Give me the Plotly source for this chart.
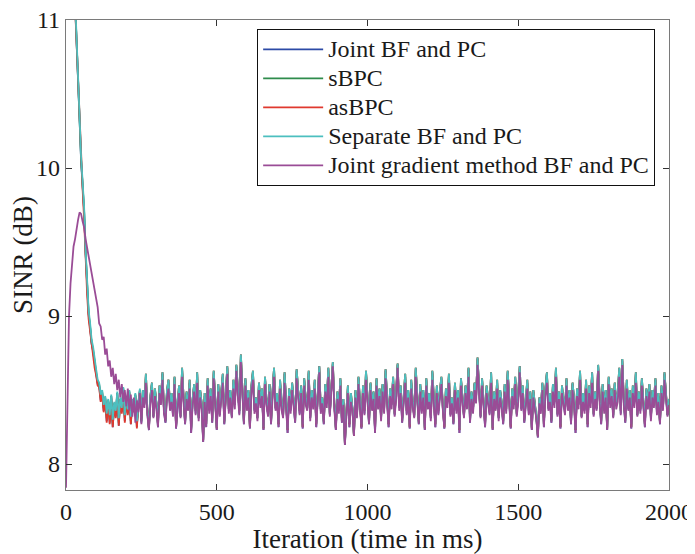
import plotly.graph_objects as go

# Iteration index (time in ms), sampled every 5 iterations
iterations = list(range(0, 2001, 5))

x_ticks = [0, 500, 1000, 1500, 2000]
y_ticks = [8, 9, 10, 11]

series_names = [
    "Joint BF and PC",
    "sBPC",
    "asBPC",
    "Separate BF and PC",
    "Joint gradient method BF and PC",
]
series_colors = ["#2c4aa6", "#2f8c4c", "#e0392e", "#4cbfbf", "#9a4c96"]

sinr_joint = [
    13.58, 13.08, 12.58, 12.12, 11.72, 11.42, 11.12, 10.89, 10.60, 10.33, 10.05, 9.90, 9.71, 9.42, 9.19, 9.01, 8.92, 8.81, 8.76, 8.67,
    8.61, 8.54, 8.53, 8.43, 8.48, 8.36, 8.45, 8.29, 8.43, 8.28, 8.46, 8.25, 8.41, 8.32, 8.48, 8.26, 8.44, 8.35, 8.51, 8.29,
    8.45, 8.34, 8.49, 8.27, 8.43, 8.36, 8.47, 8.25, 8.42, 8.50,
    8.28, 8.49, 8.40, 8.59, 8.34, 8.23, 8.45, 8.54, 8.32, 8.50, 8.40, 8.25, 8.51, 8.42, 8.61, 8.36, 8.28, 8.49, 8.55, 8.38,
    8.46, 8.33, 8.58, 8.24, 8.41, 8.51, 8.32, 8.64, 8.44, 8.27, 8.48, 8.37, 8.55, 8.21, 8.42, 8.53, 8.34, 8.61, 8.31, 8.49,
    8.40, 8.15, 8.46, 8.25, 8.57, 8.36, 8.50, 8.28, 8.62, 8.42, 8.23, 8.53, 8.33, 8.48, 8.59, 8.27, 8.44, 8.65, 8.36, 8.49,
    8.32, 8.55, 8.40, 8.66, 8.50, 8.34, 8.73, 8.46, 8.27, 8.57, 8.38, 8.49, 8.24, 8.51, 8.62, 8.36, 8.44, 8.31, 8.54, 8.41,
    8.50, 8.23, 8.58, 8.42, 8.33, 8.53, 8.27, 8.48, 8.64, 8.37, 8.46, 8.25, 8.55, 8.40, 8.32, 8.61, 8.44, 8.21, 8.50, 8.36,
    8.54, 8.41, 8.28, 8.63, 8.48, 8.34, 8.51, 8.24, 8.57, 8.42, 8.37, 8.62, 8.31, 8.49, 8.40, 8.55, 8.25, 8.46, 8.66, 8.36,
    8.44, 8.27, 8.53, 8.41, 8.64, 8.33, 8.50, 8.68, 8.40, 8.23, 8.48, 8.36, 8.57, 8.28, 8.42, 8.13, 8.34, 8.51, 8.25, 8.46,
    8.37, 8.19, 8.49, 8.32, 8.58, 8.41, 8.24, 8.51, 8.34, 8.62, 8.44, 8.27, 8.54, 8.38, 8.48, 8.21, 8.57, 8.40, 8.50, 8.31,
    8.53, 8.36, 8.63, 8.42, 8.25, 8.50, 8.40, 8.58, 8.33, 8.48, 8.67, 8.38, 8.51, 8.28, 8.45, 8.59, 8.34, 8.49, 8.24, 8.55,
    8.41, 8.32, 8.64, 8.44, 8.27, 8.53, 8.36, 8.49, 8.23, 8.57, 8.40, 8.46, 8.31, 8.62, 8.42, 8.25, 8.51, 8.34, 8.48, 8.58,
    8.37, 8.24, 8.50, 8.41, 8.59, 8.33, 8.44, 8.27, 8.54, 8.36, 8.49, 8.21, 8.57, 8.42, 8.32, 8.51, 8.40, 8.64, 8.28, 8.48,
    8.36, 8.54, 8.44, 8.71, 8.50, 8.32, 8.57, 8.40, 8.25, 8.51, 8.42, 8.34, 8.61, 8.23, 8.48, 8.37, 8.55, 8.31, 8.49, 8.41,
    8.27, 8.53, 8.36, 8.62, 8.44, 8.24, 8.50, 8.40, 8.58, 8.33, 8.46, 8.66, 8.37, 8.51, 8.28, 8.42, 8.55, 8.34, 8.48, 8.23,
    8.49, 8.40, 8.32, 8.18, 8.44, 8.36, 8.54, 8.25, 8.50, 8.61, 8.37, 8.46, 8.28, 8.53, 8.41, 8.64, 8.33, 8.48, 8.24, 8.51,
    8.42, 8.34, 8.57, 8.37, 8.49, 8.27, 8.54, 8.44, 8.21, 8.50, 8.40, 8.62, 8.32, 8.46, 8.36, 8.55, 8.25, 8.51, 8.41, 8.61,
    8.33, 8.48, 8.37, 8.66, 8.44, 8.27, 8.53, 8.36, 8.49, 8.23, 8.58, 8.41, 8.50, 8.32, 8.54, 8.40, 8.46, 8.64, 8.34, 8.70,
    8.42, 8.28, 8.55, 8.37, 8.49, 8.24, 8.51, 8.41, 8.61, 8.33, 8.48, 8.36, 8.57, 8.44, 8.25, 8.50, 8.40, 8.53, 8.31, 8.49,
    8.41, 8.57, 8.34, 8.46, 8.27, 8.51, 8.37, 8.61, 8.44, 8.33, 8.42,
]

sinr_sbpc = [
    13.59, 13.09, 12.59, 12.13, 11.73, 11.43, 11.13, 10.90, 10.60, 10.33, 10.06, 9.91, 9.72, 9.43, 9.20, 9.02, 8.93, 8.82, 8.77, 8.68,
    8.62, 8.55, 8.54, 8.45, 8.49, 8.38, 8.45, 8.31, 8.43, 8.30, 8.46, 8.27, 8.41, 8.34, 8.48, 8.28, 8.44, 8.36, 8.51, 8.31,
    8.45, 8.35, 8.49, 8.29, 8.43, 8.37, 8.47, 8.27, 8.42, 8.50,
    8.29, 8.50, 8.41, 8.61, 8.36, 8.24, 8.46, 8.55, 8.32, 8.51, 8.41, 8.27, 8.53, 8.44, 8.62, 8.37, 8.29, 8.50, 8.57, 8.40,
    8.48, 8.34, 8.59, 8.25, 8.42, 8.53, 8.32, 8.65, 8.45, 8.28, 8.49, 8.38, 8.57, 8.23, 8.44, 8.54, 8.36, 8.62, 8.31, 8.50,
    8.41, 8.16, 8.48, 8.27, 8.58, 8.37, 8.51, 8.29, 8.63, 8.44, 8.24, 8.54, 8.34, 8.49, 8.61, 8.28, 8.45, 8.66, 8.37, 8.50,
    8.32, 8.57, 8.41, 8.67, 8.51, 8.36, 8.74, 8.48, 8.28, 8.58, 8.40, 8.50, 8.25, 8.53, 8.63, 8.37, 8.45, 8.31, 8.55, 8.42,
    8.51, 8.24, 8.59, 8.44, 8.34, 8.54, 8.28, 8.49, 8.65, 8.38, 8.48, 8.27, 8.57, 8.41, 8.32, 8.62, 8.45, 8.23, 8.51, 8.37,
    8.55, 8.42, 8.29, 8.64, 8.49, 8.36, 8.53, 8.25, 8.58, 8.44, 8.38, 8.63, 8.31, 8.50, 8.41, 8.57, 8.27, 8.48, 8.66, 8.37,
    8.45, 8.28, 8.54, 8.42, 8.65, 8.34, 8.51, 8.69, 8.41, 8.24, 8.49, 8.37, 8.58, 8.29, 8.44, 8.14, 8.36, 8.53, 8.27, 8.48,
    8.38, 8.19, 8.50, 8.32, 8.59, 8.42, 8.25, 8.53, 8.36, 8.63, 8.45, 8.28, 8.55, 8.40, 8.49, 8.23, 8.58, 8.41, 8.51, 8.31,
    8.54, 8.37, 8.64, 8.44, 8.27, 8.51, 8.41, 8.59, 8.34, 8.49, 8.68, 8.40, 8.53, 8.29, 8.46, 8.61, 8.36, 8.50, 8.25, 8.57,
    8.42, 8.32, 8.65, 8.45, 8.28, 8.54, 8.37, 8.50, 8.24, 8.58, 8.41, 8.48, 8.31, 8.63, 8.44, 8.27, 8.53, 8.36, 8.49, 8.59,
    8.38, 8.25, 8.51, 8.42, 8.61, 8.34, 8.45, 8.28, 8.55, 8.37, 8.50, 8.23, 8.58, 8.44, 8.32, 8.53, 8.41, 8.65, 8.29, 8.49,
    8.37, 8.55, 8.45, 8.72, 8.51, 8.32, 8.58, 8.41, 8.27, 8.53, 8.44, 8.36, 8.62, 8.24, 8.49, 8.38, 8.57, 8.31, 8.50, 8.42,
    8.28, 8.54, 8.37, 8.63, 8.45, 8.25, 8.51, 8.41, 8.59, 8.34, 8.48, 8.66, 8.38, 8.53, 8.29, 8.44, 8.57, 8.36, 8.49, 8.24,
    8.50, 8.41, 8.32, 8.19, 8.45, 8.37, 8.55, 8.27, 8.51, 8.62, 8.38, 8.48, 8.29, 8.54, 8.42, 8.65, 8.34, 8.49, 8.25, 8.53,
    8.44, 8.36, 8.58, 8.38, 8.50, 8.28, 8.55, 8.45, 8.23, 8.51, 8.41, 8.63, 8.32, 8.48, 8.37, 8.57, 8.27, 8.53, 8.42, 8.62,
    8.34, 8.49, 8.38, 8.67, 8.45, 8.28, 8.54, 8.37, 8.50, 8.24, 8.59, 8.42, 8.51, 8.32, 8.55, 8.41, 8.48, 8.65, 8.36, 8.71,
    8.44, 8.29, 8.57, 8.38, 8.50, 8.25, 8.53, 8.42, 8.62, 8.33, 8.49, 8.37, 8.58, 8.45, 8.27, 8.51, 8.41, 8.54, 8.31, 8.50,
    8.42, 8.58, 8.36, 8.48, 8.28, 8.53, 8.38, 8.62, 8.45, 8.33, 8.44,
]

sinr_asbpc = [
    13.55, 13.02, 12.54, 12.08, 11.70, 11.38, 11.10, 10.85, 10.56, 10.28, 10.02, 9.86, 9.66, 9.37, 9.15, 8.98, 8.90, 8.78, 8.74, 8.65,
    8.60, 8.53, 8.52, 8.42, 8.47, 8.35, 8.44, 8.28, 8.42, 8.27, 8.45, 8.25, 8.40, 8.31, 8.47, 8.26, 8.43, 8.34, 8.50, 8.28,
    8.44, 8.33, 8.48, 8.27, 8.42, 8.35, 8.46, 8.24, 8.41, 8.49,
    8.31, 8.50, 8.41, 8.61, 8.36, 8.24, 8.46, 8.55, 8.33, 8.51, 8.41, 8.27, 8.53, 8.44, 8.62, 8.37, 8.31, 8.50, 8.57, 8.40,
    8.48, 8.34, 8.59, 8.25, 8.42, 8.53, 8.33, 8.65, 8.45, 8.29, 8.49, 8.38, 8.57, 8.23, 8.44, 8.54, 8.36, 8.62, 8.32, 8.50,
    8.41, 8.16, 8.48, 8.27, 8.58, 8.37, 8.51, 8.31, 8.63, 8.44, 8.24, 8.54, 8.34, 8.49, 8.61, 8.29, 8.45, 8.66, 8.37, 8.50,
    8.33, 8.57, 8.41, 8.67, 8.51, 8.36, 8.74, 8.48, 8.29, 8.58, 8.40, 8.50, 8.25, 8.53, 8.63, 8.37, 8.45, 8.32, 8.55, 8.42,
    8.51, 8.24, 8.59, 8.44, 8.34, 8.54, 8.29, 8.49, 8.65, 8.38, 8.48, 8.27, 8.57, 8.41, 8.33, 8.62, 8.45, 8.23, 8.51, 8.37,
    8.55, 8.42, 8.31, 8.64, 8.49, 8.36, 8.53, 8.25, 8.58, 8.44, 8.38, 8.63, 8.32, 8.50, 8.41, 8.57, 8.27, 8.48, 8.66, 8.37,
    8.45, 8.29, 8.54, 8.42, 8.65, 8.34, 8.51, 8.69, 8.41, 8.24, 8.49, 8.37, 8.58, 8.31, 8.44, 8.14, 8.36, 8.53, 8.27, 8.48,
    8.38, 8.19, 8.50, 8.33, 8.59, 8.42, 8.25, 8.53, 8.36, 8.63, 8.45, 8.29, 8.55, 8.40, 8.49, 8.23, 8.58, 8.41, 8.51, 8.32,
    8.54, 8.37, 8.64, 8.44, 8.27, 8.51, 8.41, 8.59, 8.34, 8.49, 8.68, 8.40, 8.53, 8.31, 8.46, 8.61, 8.36, 8.50, 8.25, 8.57,
    8.42, 8.33, 8.65, 8.45, 8.29, 8.54, 8.37, 8.50, 8.24, 8.58, 8.41, 8.48, 8.32, 8.63, 8.44, 8.27, 8.53, 8.36, 8.49, 8.59,
    8.38, 8.25, 8.51, 8.42, 8.61, 8.34, 8.45, 8.29, 8.55, 8.37, 8.50, 8.23, 8.58, 8.44, 8.33, 8.53, 8.41, 8.65, 8.31, 8.49,
    8.37, 8.55, 8.45, 8.72, 8.51, 8.33, 8.58, 8.41, 8.27, 8.53, 8.44, 8.36, 8.62, 8.24, 8.49, 8.38, 8.57, 8.32, 8.50, 8.42,
    8.29, 8.54, 8.37, 8.63, 8.45, 8.25, 8.51, 8.41, 8.59, 8.34, 8.48, 8.66, 8.38, 8.53, 8.31, 8.44, 8.57, 8.36, 8.49, 8.24,
    8.50, 8.41, 8.33, 8.19, 8.45, 8.37, 8.55, 8.27, 8.51, 8.62, 8.38, 8.48, 8.31, 8.54, 8.42, 8.65, 8.34, 8.49, 8.25, 8.53,
    8.44, 8.36, 8.58, 8.38, 8.50, 8.29, 8.55, 8.45, 8.23, 8.51, 8.41, 8.63, 8.33, 8.48, 8.37, 8.57, 8.27, 8.53, 8.42, 8.62,
    8.34, 8.49, 8.38, 8.67, 8.45, 8.29, 8.54, 8.37, 8.50, 8.24, 8.59, 8.42, 8.51, 8.33, 8.55, 8.41, 8.48, 8.65, 8.36, 8.71,
    8.44, 8.31, 8.57, 8.38, 8.50, 8.25, 8.53, 8.42, 8.62, 8.34, 8.49, 8.37, 8.58, 8.45, 8.27, 8.51, 8.41, 8.54, 8.32, 8.50,
    8.42, 8.58, 8.36, 8.48, 8.28, 8.53, 8.38, 8.62, 8.45, 8.34, 8.44,
]

sinr_separate = [
    13.60, 13.10, 12.60, 12.15, 11.75, 11.45, 11.15, 10.92, 10.62, 10.35, 10.08, 9.93, 9.74, 9.45, 9.22, 9.04, 8.95, 8.84, 8.79, 8.70,
    8.64, 8.57, 8.55, 8.47, 8.50, 8.40, 8.46, 8.34, 8.44, 8.33, 8.47, 8.30, 8.42, 8.36, 8.49, 8.31, 8.45, 8.38, 8.52, 8.33,
    8.46, 8.37, 8.50, 8.32, 8.44, 8.39, 8.48, 8.29, 8.43, 8.51,
    8.31, 8.50, 8.41, 8.61, 8.36, 8.25, 8.46, 8.55, 8.33, 8.51, 8.41, 8.28, 8.53, 8.44, 8.62, 8.37, 8.31, 8.50, 8.57, 8.40,
    8.48, 8.34, 8.59, 8.27, 8.42, 8.53, 8.33, 8.65, 8.45, 8.29, 8.49, 8.38, 8.57, 8.24, 8.44, 8.54, 8.36, 8.62, 8.32, 8.50,
    8.41, 8.17, 8.48, 8.28, 8.58, 8.37, 8.51, 8.31, 8.63, 8.44, 8.25, 8.54, 8.34, 8.49, 8.61, 8.29, 8.45, 8.66, 8.37, 8.50,
    8.33, 8.57, 8.41, 8.67, 8.51, 8.36, 8.74, 8.48, 8.29, 8.58, 8.40, 8.50, 8.27, 8.53, 8.63, 8.37, 8.45, 8.32, 8.55, 8.42,
    8.51, 8.25, 8.59, 8.44, 8.34, 8.54, 8.29, 8.49, 8.65, 8.38, 8.48, 8.28, 8.57, 8.41, 8.33, 8.62, 8.45, 8.24, 8.51, 8.37,
    8.55, 8.42, 8.31, 8.64, 8.49, 8.36, 8.53, 8.27, 8.58, 8.44, 8.38, 8.63, 8.32, 8.50, 8.41, 8.57, 8.28, 8.48, 8.66, 8.37,
    8.45, 8.29, 8.54, 8.42, 8.65, 8.34, 8.51, 8.69, 8.41, 8.25, 8.49, 8.37, 8.58, 8.31, 8.44, 8.15, 8.36, 8.53, 8.28, 8.48,
    8.38, 8.20, 8.50, 8.33, 8.59, 8.42, 8.27, 8.53, 8.36, 8.63, 8.45, 8.29, 8.55, 8.40, 8.49, 8.24, 8.58, 8.41, 8.51, 8.32,
    8.54, 8.37, 8.64, 8.44, 8.28, 8.51, 8.41, 8.59, 8.34, 8.49, 8.68, 8.40, 8.53, 8.31, 8.46, 8.61, 8.36, 8.50, 8.27, 8.57,
    8.42, 8.33, 8.65, 8.45, 8.29, 8.54, 8.37, 8.50, 8.25, 8.58, 8.41, 8.48, 8.32, 8.63, 8.44, 8.28, 8.53, 8.36, 8.49, 8.59,
    8.38, 8.27, 8.51, 8.42, 8.61, 8.34, 8.45, 8.29, 8.55, 8.37, 8.50, 8.24, 8.58, 8.44, 8.33, 8.53, 8.41, 8.65, 8.31, 8.49,
    8.37, 8.55, 8.45, 8.72, 8.51, 8.33, 8.58, 8.41, 8.28, 8.53, 8.44, 8.36, 8.62, 8.25, 8.49, 8.38, 8.57, 8.32, 8.50, 8.42,
    8.29, 8.54, 8.37, 8.63, 8.45, 8.27, 8.51, 8.41, 8.59, 8.34, 8.48, 8.66, 8.38, 8.53, 8.31, 8.44, 8.57, 8.36, 8.49, 8.25,
    8.50, 8.41, 8.33, 8.20, 8.45, 8.37, 8.55, 8.28, 8.51, 8.62, 8.38, 8.48, 8.31, 8.54, 8.42, 8.65, 8.34, 8.49, 8.27, 8.53,
    8.44, 8.36, 8.58, 8.38, 8.50, 8.29, 8.55, 8.45, 8.24, 8.51, 8.41, 8.63, 8.33, 8.48, 8.37, 8.57, 8.28, 8.53, 8.42, 8.62,
    8.34, 8.49, 8.38, 8.67, 8.45, 8.29, 8.54, 8.37, 8.50, 8.25, 8.59, 8.42, 8.51, 8.33, 8.55, 8.41, 8.48, 8.65, 8.36, 8.71,
    8.44, 8.31, 8.57, 8.38, 8.50, 8.27, 8.53, 8.42, 8.62, 8.34, 8.49, 8.37, 8.58, 8.45, 8.28, 8.51, 8.41, 8.54, 8.32, 8.50,
    8.42, 8.58, 8.36, 8.48, 8.29, 8.53, 8.38, 8.62, 8.45, 8.34, 8.44,
]

sinr_gradient = [
    7.84, 8.45, 9.00, 9.22, 9.38, 9.47, 9.52, 9.60, 9.65, 9.70, 9.69, 9.64, 9.60, 9.52, 9.46, 9.40, 9.33, 9.27, 9.21, 9.17,
    9.10, 9.06, 8.95, 8.93, 8.84, 8.86, 8.74, 8.78, 8.66, 8.70, 8.59, 8.65, 8.54, 8.61, 8.50, 8.57, 8.45, 8.54, 8.42, 8.50,
    8.39, 8.51, 8.36, 8.47, 8.32, 8.45, 8.28, 8.43, 8.35, 8.48,
    8.27, 8.45, 8.38, 8.55, 8.33, 8.23, 8.41, 8.50, 8.31, 8.46, 8.37, 8.25, 8.48, 8.40, 8.57, 8.34, 8.28, 8.45, 8.51, 8.36,
    8.42, 8.32, 8.54, 8.24, 8.38, 8.48, 8.31, 8.59, 8.41, 8.27, 8.44, 8.36, 8.51, 8.21, 8.40, 8.49, 8.33, 8.55, 8.29, 8.45,
    8.37, 8.15, 8.42, 8.25, 8.53, 8.34, 8.46, 8.28, 8.58, 8.40, 8.23, 8.49, 8.32, 8.44, 8.55, 8.27, 8.41, 8.61, 8.34, 8.45,
    8.31, 8.51, 8.37, 8.63, 8.46, 8.33, 8.69, 8.42, 8.27, 8.53, 8.36, 8.45, 8.24, 8.48, 8.57, 8.34, 8.41, 8.29, 8.50, 8.38,
    8.46, 8.23, 8.54, 8.40, 8.32, 8.49, 8.27, 8.44, 8.59, 8.36, 8.42, 8.25, 8.51, 8.37, 8.31, 8.55, 8.41, 8.21, 8.46, 8.34,
    8.50, 8.38, 8.28, 8.58, 8.44, 8.33, 8.48, 8.24, 8.53, 8.40, 8.36, 8.57, 8.29, 8.45, 8.37, 8.51, 8.25, 8.42, 8.62, 8.34,
    8.41, 8.27, 8.49, 8.38, 8.59, 8.32, 8.46, 8.66, 8.37, 8.23, 8.44, 8.34, 8.53, 8.28, 8.40, 8.13, 8.33, 8.48, 8.25, 8.42,
    8.36, 8.19, 8.45, 8.31, 8.54, 8.38, 8.24, 8.48, 8.33, 8.57, 8.41, 8.27, 8.50, 8.36, 8.44, 8.21, 8.53, 8.37, 8.46, 8.29,
    8.49, 8.34, 8.58, 8.40, 8.25, 8.46, 8.37, 8.54, 8.32, 8.44, 8.65, 8.36, 8.48, 8.28, 8.42, 8.55, 8.33, 8.45, 8.24, 8.51,
    8.38, 8.31, 8.59, 8.41, 8.27, 8.49, 8.34, 8.45, 8.23, 8.53, 8.37, 8.42, 8.29, 8.57, 8.40, 8.25, 8.48, 8.33, 8.44, 8.54,
    8.36, 8.24, 8.46, 8.38, 8.55, 8.32, 8.41, 8.27, 8.50, 8.34, 8.45, 8.21, 8.53, 8.40, 8.31, 8.48, 8.37, 8.59, 8.28, 8.44,
    8.34, 8.50, 8.41, 8.67, 8.46, 8.31, 8.53, 8.37, 8.25, 8.48, 8.40, 8.33, 8.55, 8.23, 8.44, 8.36, 8.51, 8.29, 8.45, 8.38,
    8.27, 8.49, 8.34, 8.57, 8.41, 8.24, 8.46, 8.37, 8.54, 8.32, 8.42, 8.62, 8.36, 8.48, 8.28, 8.40, 8.51, 8.33, 8.44, 8.23,
    8.45, 8.37, 8.31, 8.18, 8.41, 8.34, 8.50, 8.25, 8.46, 8.55, 8.36, 8.42, 8.28, 8.49, 8.38, 8.59, 8.32, 8.44, 8.24, 8.48,
    8.40, 8.33, 8.53, 8.36, 8.45, 8.27, 8.50, 8.41, 8.21, 8.46, 8.37, 8.57, 8.31, 8.42, 8.34, 8.51, 8.25, 8.48, 8.38, 8.55,
    8.32, 8.44, 8.36, 8.63, 8.41, 8.27, 8.49, 8.34, 8.45, 8.23, 8.54, 8.38, 8.46, 8.31, 8.50, 8.37, 8.42, 8.59, 8.33, 8.67,
    8.40, 8.28, 8.51, 8.36, 8.45, 8.24, 8.48, 8.38, 8.55, 8.32, 8.44, 8.34, 8.53, 8.41, 8.25, 8.46, 8.37, 8.49, 8.29, 8.45,
    8.38, 8.53, 8.33, 8.42, 8.27, 8.48, 8.36, 8.57, 8.41, 8.32, 8.40,
]

all_series = [sinr_joint, sinr_sbpc, sinr_asbpc, sinr_separate, sinr_gradient]
for s in all_series:
    assert len(s) == len(iterations), (len(s), len(iterations))

FONT = "Liberation Serif, Times New Roman, serif"
FRAME = "#7a7a7a"
TEXT = "#1a1a1a"

fig = go.Figure()
for name, vals, color in zip(series_names, all_series, series_colors):
    fig.add_trace(go.Scatter(
        x=iterations, y=vals, mode="lines",
        name='<span style="font-size:24px">' + name + '</span>',
        line=dict(color=color, width=1.8),
    ))

# The page body adds an 8 px offset, so the figure is 8 px smaller than the window.
fig.update_layout(
    width=687, height=546,
    margin=dict(l=58, r=26, t=12, b=64, autoexpand=False),
    paper_bgcolor="white", plot_bgcolor="white",
    font=dict(family=FONT, size=24, color=TEXT),
    showlegend=True,
    legend=dict(
        x=0.317, y=0.981, xanchor="left", yanchor="top",
        bgcolor="white", bordercolor="#111111", borderwidth=1,
        font=dict(family=FONT, size=20, color=TEXT),
        itemwidth=60, tracegroupgap=0,
    ),
)

fig.update_xaxes(
    range=[0, 2000], tickvals=x_ticks, ticktext=[str(v) for v in x_ticks],
    ticks="inside", ticklen=6, tickcolor="#333333", tickwidth=1,
    showline=True, linecolor=FRAME, linewidth=1.3, mirror="ticks",
    showgrid=False, zeroline=False, automargin=False,
    ticklabeloverflow="allow",
    tickfont=dict(family=FONT, size=24, color=TEXT),
    title=dict(text="Iteration (time in ms)", font=dict(family=FONT, size=27, color=TEXT), standoff=4),
)
fig.update_yaxes(
    range=[7.825, 11], tickvals=y_ticks, ticktext=[str(v) for v in y_ticks],
    ticks="inside", ticklen=6, tickcolor="#333333", tickwidth=1,
    showline=True, linecolor=FRAME, linewidth=1.3, mirror="ticks",
    showgrid=False, zeroline=False, automargin=False,
    ticklabeloverflow="allow",
    tickfont=dict(family=FONT, size=24, color=TEXT), ticklabelstandoff=0,
    title=dict(text="SINR (dB)", font=dict(family=FONT, size=27, color=TEXT), standoff=0),
)

fig.write_html("out.html")
